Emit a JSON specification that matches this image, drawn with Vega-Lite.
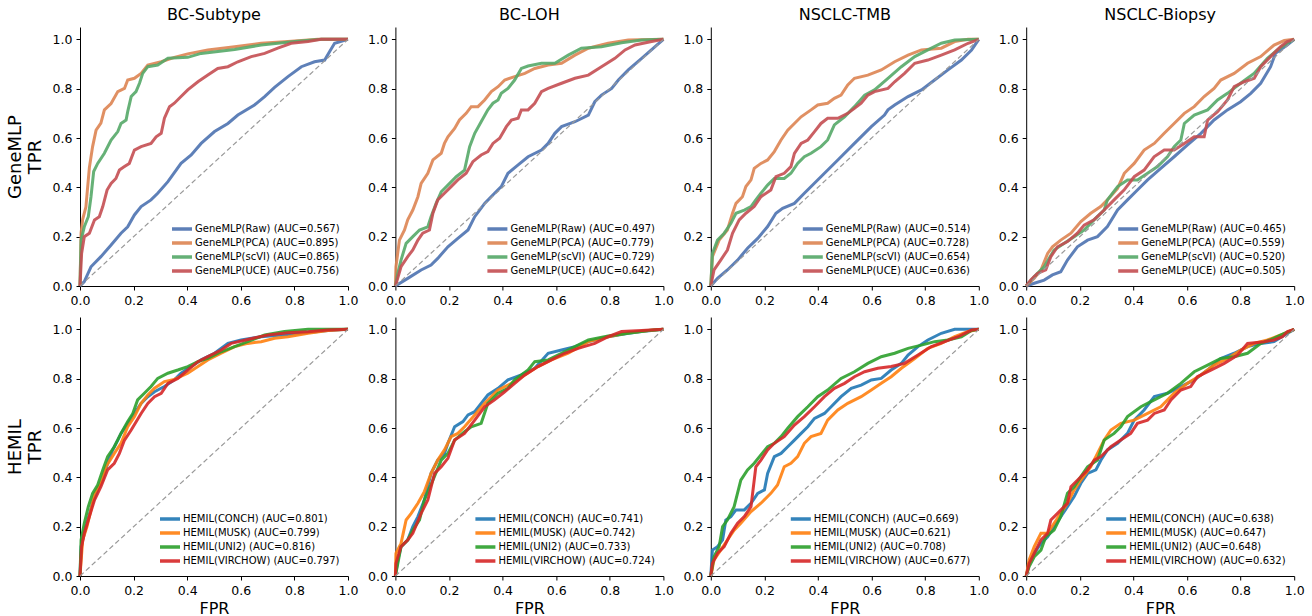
{
"$schema":"https://vega.github.io/schema/vega-lite/v6.json",
"background":"white",
"padding":{"left":6,"top":7,"right":5,"bottom":5},
"datasets":{
"diag":[{"x":0,"y":0},{"x":1,"y":1}],
"roc":[
{"p":"a1","m":"Raw","x":0,"y":0},{"p":"a1","m":"Raw","x":0.016,"y":0.018},{"p":"a1","m":"Raw","x":0.041,"y":0.078},{"p":"a1","m":"Raw","x":0.078,"y":0.119},{"p":"a1","m":"Raw","x":0.116,"y":0.166},{"p":"a1","m":"Raw","x":0.153,"y":0.214},{"p":"a1","m":"Raw","x":0.178,"y":0.24},{"p":"a1","m":"Raw","x":0.203,"y":0.288},{"p":"a1","m":"Raw","x":0.228,"y":0.322},{"p":"a1","m":"Raw","x":0.265,"y":0.349},{"p":"a1","m":"Raw","x":0.29,"y":0.376},{"p":"a1","m":"Raw","x":0.328,"y":0.423},{"p":"a1","m":"Raw","x":0.377,"y":0.497},{"p":"a1","m":"Raw","x":0.415,"y":0.531},{"p":"a1","m":"Raw","x":0.452,"y":0.578},{"p":"a1","m":"Raw","x":0.502,"y":0.626},{"p":"a1","m":"Raw","x":0.552,"y":0.659},{"p":"a1","m":"Raw","x":0.589,"y":0.693},{"p":"a1","m":"Raw","x":0.651,"y":0.734},{"p":"a1","m":"Raw","x":0.689,"y":0.768},{"p":"a1","m":"Raw","x":0.726,"y":0.805},{"p":"a1","m":"Raw","x":0.776,"y":0.849},{"p":"a1","m":"Raw","x":0.826,"y":0.889},{"p":"a1","m":"Raw","x":0.875,"y":0.909},{"p":"a1","m":"Raw","x":0.913,"y":0.916},{"p":"a1","m":"Raw","x":0.931,"y":0.95},{"p":"a1","m":"Raw","x":0.95,"y":0.984},{"p":"a1","m":"Raw","x":1,"y":1},
{"p":"a1","m":"PCA","x":0,"y":0},{"p":"a1","m":"PCA","x":0.004,"y":0.214},{"p":"a1","m":"PCA","x":0.01,"y":0.27},{"p":"a1","m":"PCA","x":0.022,"y":0.32},{"p":"a1","m":"PCA","x":0.035,"y":0.48},{"p":"a1","m":"PCA","x":0.047,"y":0.565},{"p":"a1","m":"PCA","x":0.06,"y":0.632},{"p":"a1","m":"PCA","x":0.078,"y":0.66},{"p":"a1","m":"PCA","x":0.091,"y":0.714},{"p":"a1","m":"PCA","x":0.116,"y":0.74},{"p":"a1","m":"PCA","x":0.141,"y":0.788},{"p":"a1","m":"PCA","x":0.166,"y":0.801},{"p":"a1","m":"PCA","x":0.178,"y":0.835},{"p":"a1","m":"PCA","x":0.203,"y":0.842},{"p":"a1","m":"PCA","x":0.228,"y":0.862},{"p":"a1","m":"PCA","x":0.253,"y":0.896},{"p":"a1","m":"PCA","x":0.303,"y":0.909},{"p":"a1","m":"PCA","x":0.352,"y":0.927},{"p":"a1","m":"PCA","x":0.402,"y":0.941},{"p":"a1","m":"PCA","x":0.477,"y":0.957},{"p":"a1","m":"PCA","x":0.577,"y":0.97},{"p":"a1","m":"PCA","x":0.676,"y":0.984},{"p":"a1","m":"PCA","x":0.776,"y":0.991},{"p":"a1","m":"PCA","x":0.888,"y":1},{"p":"a1","m":"PCA","x":1,"y":1},
{"p":"a1","m":"scVI","x":0,"y":0},{"p":"a1","m":"scVI","x":0.004,"y":0.186},{"p":"a1","m":"scVI","x":0.016,"y":0.24},{"p":"a1","m":"scVI","x":0.031,"y":0.281},{"p":"a1","m":"scVI","x":0.041,"y":0.362},{"p":"a1","m":"scVI","x":0.051,"y":0.464},{"p":"a1","m":"scVI","x":0.066,"y":0.497},{"p":"a1","m":"scVI","x":0.091,"y":0.538},{"p":"a1","m":"scVI","x":0.116,"y":0.592},{"p":"a1","m":"scVI","x":0.141,"y":0.626},{"p":"a1","m":"scVI","x":0.153,"y":0.659},{"p":"a1","m":"scVI","x":0.172,"y":0.673},{"p":"a1","m":"scVI","x":0.178,"y":0.707},{"p":"a1","m":"scVI","x":0.191,"y":0.768},{"p":"a1","m":"scVI","x":0.209,"y":0.788},{"p":"a1","m":"scVI","x":0.222,"y":0.822},{"p":"a1","m":"scVI","x":0.234,"y":0.862},{"p":"a1","m":"scVI","x":0.253,"y":0.889},{"p":"a1","m":"scVI","x":0.29,"y":0.896},{"p":"a1","m":"scVI","x":0.328,"y":0.923},{"p":"a1","m":"scVI","x":0.402,"y":0.927},{"p":"a1","m":"scVI","x":0.452,"y":0.943},{"p":"a1","m":"scVI","x":0.577,"y":0.959},{"p":"a1","m":"scVI","x":0.676,"y":0.977},{"p":"a1","m":"scVI","x":0.801,"y":0.991},{"p":"a1","m":"scVI","x":0.9,"y":1},{"p":"a1","m":"scVI","x":1,"y":1},
{"p":"a1","m":"UCE","x":0,"y":0},{"p":"a1","m":"UCE","x":0.006,"y":0.132},{"p":"a1","m":"UCE","x":0.016,"y":0.2},{"p":"a1","m":"UCE","x":0.035,"y":0.214},{"p":"a1","m":"UCE","x":0.054,"y":0.268},{"p":"a1","m":"UCE","x":0.072,"y":0.281},{"p":"a1","m":"UCE","x":0.085,"y":0.322},{"p":"a1","m":"UCE","x":0.101,"y":0.389},{"p":"a1","m":"UCE","x":0.116,"y":0.416},{"p":"a1","m":"UCE","x":0.134,"y":0.436},{"p":"a1","m":"UCE","x":0.147,"y":0.47},{"p":"a1","m":"UCE","x":0.166,"y":0.484},{"p":"a1","m":"UCE","x":0.184,"y":0.497},{"p":"a1","m":"UCE","x":0.203,"y":0.551},{"p":"a1","m":"UCE","x":0.228,"y":0.565},{"p":"a1","m":"UCE","x":0.265,"y":0.578},{"p":"a1","m":"UCE","x":0.284,"y":0.605},{"p":"a1","m":"UCE","x":0.303,"y":0.619},{"p":"a1","m":"UCE","x":0.315,"y":0.68},{"p":"a1","m":"UCE","x":0.334,"y":0.727},{"p":"a1","m":"UCE","x":0.352,"y":0.741},{"p":"a1","m":"UCE","x":0.377,"y":0.768},{"p":"a1","m":"UCE","x":0.402,"y":0.795},{"p":"a1","m":"UCE","x":0.44,"y":0.828},{"p":"a1","m":"UCE","x":0.477,"y":0.855},{"p":"a1","m":"UCE","x":0.514,"y":0.882},{"p":"a1","m":"UCE","x":0.552,"y":0.889},{"p":"a1","m":"UCE","x":0.589,"y":0.909},{"p":"a1","m":"UCE","x":0.639,"y":0.93},{"p":"a1","m":"UCE","x":0.689,"y":0.943},{"p":"a1","m":"UCE","x":0.738,"y":0.964},{"p":"a1","m":"UCE","x":0.788,"y":0.984},{"p":"a1","m":"UCE","x":0.851,"y":0.991},{"p":"a1","m":"UCE","x":0.9,"y":1},{"p":"a1","m":"UCE","x":1,"y":1},
{"p":"a2","m":"Raw","x":0,"y":0},{"p":"a2","m":"Raw","x":0.046,"y":0.031},{"p":"a2","m":"Raw","x":0.096,"y":0.065},{"p":"a2","m":"Raw","x":0.133,"y":0.085},{"p":"a2","m":"Raw","x":0.158,"y":0.112},{"p":"a2","m":"Raw","x":0.196,"y":0.159},{"p":"a2","m":"Raw","x":0.233,"y":0.193},{"p":"a2","m":"Raw","x":0.271,"y":0.227},{"p":"a2","m":"Raw","x":0.296,"y":0.281},{"p":"a2","m":"Raw","x":0.333,"y":0.335},{"p":"a2","m":"Raw","x":0.37,"y":0.376},{"p":"a2","m":"Raw","x":0.395,"y":0.403},{"p":"a2","m":"Raw","x":0.42,"y":0.457},{"p":"a2","m":"Raw","x":0.458,"y":0.491},{"p":"a2","m":"Raw","x":0.495,"y":0.524},{"p":"a2","m":"Raw","x":0.545,"y":0.551},{"p":"a2","m":"Raw","x":0.57,"y":0.578},{"p":"a2","m":"Raw","x":0.595,"y":0.619},{"p":"a2","m":"Raw","x":0.62,"y":0.646},{"p":"a2","m":"Raw","x":0.67,"y":0.666},{"p":"a2","m":"Raw","x":0.72,"y":0.693},{"p":"a2","m":"Raw","x":0.744,"y":0.747},{"p":"a2","m":"Raw","x":0.769,"y":0.774},{"p":"a2","m":"Raw","x":0.807,"y":0.801},{"p":"a2","m":"Raw","x":0.832,"y":0.835},{"p":"a2","m":"Raw","x":0.869,"y":0.876},{"p":"a2","m":"Raw","x":0.919,"y":0.923},{"p":"a2","m":"Raw","x":0.969,"y":0.97},{"p":"a2","m":"Raw","x":1,"y":1},
{"p":"a2","m":"PCA","x":0,"y":0},{"p":"a2","m":"PCA","x":0.002,"y":0.078},{"p":"a2","m":"PCA","x":0.015,"y":0.186},{"p":"a2","m":"PCA","x":0.034,"y":0.227},{"p":"a2","m":"PCA","x":0.046,"y":0.268},{"p":"a2","m":"PCA","x":0.065,"y":0.308},{"p":"a2","m":"PCA","x":0.084,"y":0.362},{"p":"a2","m":"PCA","x":0.096,"y":0.416},{"p":"a2","m":"PCA","x":0.121,"y":0.457},{"p":"a2","m":"PCA","x":0.14,"y":0.511},{"p":"a2","m":"PCA","x":0.171,"y":0.538},{"p":"a2","m":"PCA","x":0.183,"y":0.578},{"p":"a2","m":"PCA","x":0.196,"y":0.605},{"p":"a2","m":"PCA","x":0.221,"y":0.639},{"p":"a2","m":"PCA","x":0.239,"y":0.673},{"p":"a2","m":"PCA","x":0.264,"y":0.7},{"p":"a2","m":"PCA","x":0.283,"y":0.727},{"p":"a2","m":"PCA","x":0.308,"y":0.727},{"p":"a2","m":"PCA","x":0.333,"y":0.754},{"p":"a2","m":"PCA","x":0.358,"y":0.788},{"p":"a2","m":"PCA","x":0.383,"y":0.808},{"p":"a2","m":"PCA","x":0.408,"y":0.835},{"p":"a2","m":"PCA","x":0.445,"y":0.849},{"p":"a2","m":"PCA","x":0.483,"y":0.862},{"p":"a2","m":"PCA","x":0.52,"y":0.882},{"p":"a2","m":"PCA","x":0.57,"y":0.896},{"p":"a2","m":"PCA","x":0.62,"y":0.903},{"p":"a2","m":"PCA","x":0.67,"y":0.936},{"p":"a2","m":"PCA","x":0.72,"y":0.964},{"p":"a2","m":"PCA","x":0.794,"y":0.984},{"p":"a2","m":"PCA","x":0.869,"y":0.997},{"p":"a2","m":"PCA","x":1,"y":1},
{"p":"a2","m":"scVI","x":0,"y":0},{"p":"a2","m":"scVI","x":0.009,"y":0.051},{"p":"a2","m":"scVI","x":0.021,"y":0.105},{"p":"a2","m":"scVI","x":0.04,"y":0.173},{"p":"a2","m":"scVI","x":0.065,"y":0.2},{"p":"a2","m":"scVI","x":0.09,"y":0.227},{"p":"a2","m":"scVI","x":0.121,"y":0.24},{"p":"a2","m":"scVI","x":0.133,"y":0.281},{"p":"a2","m":"scVI","x":0.152,"y":0.335},{"p":"a2","m":"scVI","x":0.171,"y":0.382},{"p":"a2","m":"scVI","x":0.196,"y":0.409},{"p":"a2","m":"scVI","x":0.227,"y":0.443},{"p":"a2","m":"scVI","x":0.258,"y":0.47},{"p":"a2","m":"scVI","x":0.277,"y":0.565},{"p":"a2","m":"scVI","x":0.296,"y":0.619},{"p":"a2","m":"scVI","x":0.32,"y":0.666},{"p":"a2","m":"scVI","x":0.345,"y":0.714},{"p":"a2","m":"scVI","x":0.364,"y":0.741},{"p":"a2","m":"scVI","x":0.383,"y":0.754},{"p":"a2","m":"scVI","x":0.395,"y":0.781},{"p":"a2","m":"scVI","x":0.42,"y":0.801},{"p":"a2","m":"scVI","x":0.445,"y":0.835},{"p":"a2","m":"scVI","x":0.47,"y":0.882},{"p":"a2","m":"scVI","x":0.495,"y":0.892},{"p":"a2","m":"scVI","x":0.545,"y":0.903},{"p":"a2","m":"scVI","x":0.595,"y":0.903},{"p":"a2","m":"scVI","x":0.645,"y":0.936},{"p":"a2","m":"scVI","x":0.694,"y":0.964},{"p":"a2","m":"scVI","x":0.769,"y":0.97},{"p":"a2","m":"scVI","x":0.844,"y":0.986},{"p":"a2","m":"scVI","x":0.919,"y":0.997},{"p":"a2","m":"scVI","x":1,"y":1},
{"p":"a2","m":"UCE","x":0,"y":0},{"p":"a2","m":"UCE","x":0.021,"y":0.078},{"p":"a2","m":"UCE","x":0.046,"y":0.119},{"p":"a2","m":"UCE","x":0.065,"y":0.146},{"p":"a2","m":"UCE","x":0.084,"y":0.186},{"p":"a2","m":"UCE","x":0.102,"y":0.214},{"p":"a2","m":"UCE","x":0.127,"y":0.227},{"p":"a2","m":"UCE","x":0.14,"y":0.295},{"p":"a2","m":"UCE","x":0.158,"y":0.349},{"p":"a2","m":"UCE","x":0.183,"y":0.376},{"p":"a2","m":"UCE","x":0.208,"y":0.403},{"p":"a2","m":"UCE","x":0.233,"y":0.43},{"p":"a2","m":"UCE","x":0.264,"y":0.457},{"p":"a2","m":"UCE","x":0.289,"y":0.504},{"p":"a2","m":"UCE","x":0.32,"y":0.531},{"p":"a2","m":"UCE","x":0.345,"y":0.545},{"p":"a2","m":"UCE","x":0.364,"y":0.578},{"p":"a2","m":"UCE","x":0.389,"y":0.599},{"p":"a2","m":"UCE","x":0.414,"y":0.646},{"p":"a2","m":"UCE","x":0.433,"y":0.673},{"p":"a2","m":"UCE","x":0.458,"y":0.68},{"p":"a2","m":"UCE","x":0.47,"y":0.714},{"p":"a2","m":"UCE","x":0.495,"y":0.714},{"p":"a2","m":"UCE","x":0.52,"y":0.741},{"p":"a2","m":"UCE","x":0.545,"y":0.788},{"p":"a2","m":"UCE","x":0.57,"y":0.801},{"p":"a2","m":"UCE","x":0.62,"y":0.822},{"p":"a2","m":"UCE","x":0.67,"y":0.842},{"p":"a2","m":"UCE","x":0.72,"y":0.855},{"p":"a2","m":"UCE","x":0.769,"y":0.889},{"p":"a2","m":"UCE","x":0.819,"y":0.923},{"p":"a2","m":"UCE","x":0.857,"y":0.957},{"p":"a2","m":"UCE","x":0.894,"y":0.977},{"p":"a2","m":"UCE","x":0.956,"y":0.991},{"p":"a2","m":"UCE","x":1,"y":1},
{"p":"a3","m":"Raw","x":0,"y":0},{"p":"a3","m":"Raw","x":0.025,"y":0.031},{"p":"a3","m":"Raw","x":0.062,"y":0.065},{"p":"a3","m":"Raw","x":0.1,"y":0.105},{"p":"a3","m":"Raw","x":0.137,"y":0.153},{"p":"a3","m":"Raw","x":0.175,"y":0.193},{"p":"a3","m":"Raw","x":0.212,"y":0.241},{"p":"a3","m":"Raw","x":0.243,"y":0.295},{"p":"a3","m":"Raw","x":0.268,"y":0.315},{"p":"a3","m":"Raw","x":0.312,"y":0.335},{"p":"a3","m":"Raw","x":0.349,"y":0.376},{"p":"a3","m":"Raw","x":0.411,"y":0.443},{"p":"a3","m":"Raw","x":0.474,"y":0.511},{"p":"a3","m":"Raw","x":0.536,"y":0.578},{"p":"a3","m":"Raw","x":0.599,"y":0.646},{"p":"a3","m":"Raw","x":0.648,"y":0.693},{"p":"a3","m":"Raw","x":0.661,"y":0.714},{"p":"a3","m":"Raw","x":0.686,"y":0.734},{"p":"a3","m":"Raw","x":0.736,"y":0.768},{"p":"a3","m":"Raw","x":0.786,"y":0.795},{"p":"a3","m":"Raw","x":0.835,"y":0.835},{"p":"a3","m":"Raw","x":0.885,"y":0.876},{"p":"a3","m":"Raw","x":0.935,"y":0.916},{"p":"a3","m":"Raw","x":0.973,"y":0.957},{"p":"a3","m":"Raw","x":1,"y":1},
{"p":"a3","m":"PCA","x":0,"y":0},{"p":"a3","m":"PCA","x":0.006,"y":0.119},{"p":"a3","m":"PCA","x":0.031,"y":0.186},{"p":"a3","m":"PCA","x":0.062,"y":0.227},{"p":"a3","m":"PCA","x":0.081,"y":0.295},{"p":"a3","m":"PCA","x":0.094,"y":0.335},{"p":"a3","m":"PCA","x":0.118,"y":0.362},{"p":"a3","m":"PCA","x":0.131,"y":0.403},{"p":"a3","m":"PCA","x":0.15,"y":0.43},{"p":"a3","m":"PCA","x":0.162,"y":0.477},{"p":"a3","m":"PCA","x":0.187,"y":0.497},{"p":"a3","m":"PCA","x":0.212,"y":0.511},{"p":"a3","m":"PCA","x":0.237,"y":0.545},{"p":"a3","m":"PCA","x":0.262,"y":0.592},{"p":"a3","m":"PCA","x":0.287,"y":0.632},{"p":"a3","m":"PCA","x":0.312,"y":0.659},{"p":"a3","m":"PCA","x":0.337,"y":0.686},{"p":"a3","m":"PCA","x":0.374,"y":0.714},{"p":"a3","m":"PCA","x":0.399,"y":0.734},{"p":"a3","m":"PCA","x":0.436,"y":0.741},{"p":"a3","m":"PCA","x":0.461,"y":0.761},{"p":"a3","m":"PCA","x":0.486,"y":0.774},{"p":"a3","m":"PCA","x":0.511,"y":0.815},{"p":"a3","m":"PCA","x":0.536,"y":0.842},{"p":"a3","m":"PCA","x":0.586,"y":0.855},{"p":"a3","m":"PCA","x":0.636,"y":0.876},{"p":"a3","m":"PCA","x":0.686,"y":0.909},{"p":"a3","m":"PCA","x":0.736,"y":0.936},{"p":"a3","m":"PCA","x":0.786,"y":0.957},{"p":"a3","m":"PCA","x":0.86,"y":0.964},{"p":"a3","m":"PCA","x":0.91,"y":0.991},{"p":"a3","m":"PCA","x":0.96,"y":1},{"p":"a3","m":"PCA","x":1,"y":1},
{"p":"a3","m":"scVI","x":0,"y":0},{"p":"a3","m":"scVI","x":0.006,"y":0.132},{"p":"a3","m":"scVI","x":0.025,"y":0.186},{"p":"a3","m":"scVI","x":0.05,"y":0.214},{"p":"a3","m":"scVI","x":0.075,"y":0.254},{"p":"a3","m":"scVI","x":0.094,"y":0.295},{"p":"a3","m":"scVI","x":0.125,"y":0.308},{"p":"a3","m":"scVI","x":0.15,"y":0.322},{"p":"a3","m":"scVI","x":0.168,"y":0.349},{"p":"a3","m":"scVI","x":0.187,"y":0.376},{"p":"a3","m":"scVI","x":0.212,"y":0.409},{"p":"a3","m":"scVI","x":0.237,"y":0.436},{"p":"a3","m":"scVI","x":0.274,"y":0.436},{"p":"a3","m":"scVI","x":0.299,"y":0.457},{"p":"a3","m":"scVI","x":0.324,"y":0.497},{"p":"a3","m":"scVI","x":0.349,"y":0.524},{"p":"a3","m":"scVI","x":0.374,"y":0.538},{"p":"a3","m":"scVI","x":0.411,"y":0.565},{"p":"a3","m":"scVI","x":0.436,"y":0.592},{"p":"a3","m":"scVI","x":0.461,"y":0.653},{"p":"a3","m":"scVI","x":0.499,"y":0.686},{"p":"a3","m":"scVI","x":0.536,"y":0.727},{"p":"a3","m":"scVI","x":0.574,"y":0.774},{"p":"a3","m":"scVI","x":0.611,"y":0.795},{"p":"a3","m":"scVI","x":0.661,"y":0.842},{"p":"a3","m":"scVI","x":0.711,"y":0.889},{"p":"a3","m":"scVI","x":0.761,"y":0.93},{"p":"a3","m":"scVI","x":0.81,"y":0.957},{"p":"a3","m":"scVI","x":0.86,"y":0.984},{"p":"a3","m":"scVI","x":0.91,"y":0.997},{"p":"a3","m":"scVI","x":1,"y":1},
{"p":"a3","m":"UCE","x":0,"y":0},{"p":"a3","m":"UCE","x":0.012,"y":0.065},{"p":"a3","m":"UCE","x":0.037,"y":0.105},{"p":"a3","m":"UCE","x":0.062,"y":0.146},{"p":"a3","m":"UCE","x":0.081,"y":0.214},{"p":"a3","m":"UCE","x":0.106,"y":0.268},{"p":"a3","m":"UCE","x":0.131,"y":0.295},{"p":"a3","m":"UCE","x":0.162,"y":0.322},{"p":"a3","m":"UCE","x":0.187,"y":0.362},{"p":"a3","m":"UCE","x":0.224,"y":0.389},{"p":"a3","m":"UCE","x":0.243,"y":0.443},{"p":"a3","m":"UCE","x":0.274,"y":0.457},{"p":"a3","m":"UCE","x":0.299,"y":0.484},{"p":"a3","m":"UCE","x":0.312,"y":0.538},{"p":"a3","m":"UCE","x":0.337,"y":0.578},{"p":"a3","m":"UCE","x":0.362,"y":0.592},{"p":"a3","m":"UCE","x":0.387,"y":0.626},{"p":"a3","m":"UCE","x":0.411,"y":0.659},{"p":"a3","m":"UCE","x":0.436,"y":0.68},{"p":"a3","m":"UCE","x":0.474,"y":0.68},{"p":"a3","m":"UCE","x":0.511,"y":0.7},{"p":"a3","m":"UCE","x":0.536,"y":0.72},{"p":"a3","m":"UCE","x":0.561,"y":0.741},{"p":"a3","m":"UCE","x":0.586,"y":0.774},{"p":"a3","m":"UCE","x":0.611,"y":0.788},{"p":"a3","m":"UCE","x":0.661,"y":0.801},{"p":"a3","m":"UCE","x":0.686,"y":0.828},{"p":"a3","m":"UCE","x":0.723,"y":0.862},{"p":"a3","m":"UCE","x":0.761,"y":0.903},{"p":"a3","m":"UCE","x":0.81,"y":0.916},{"p":"a3","m":"UCE","x":0.86,"y":0.936},{"p":"a3","m":"UCE","x":0.91,"y":0.957},{"p":"a3","m":"UCE","x":0.96,"y":0.984},{"p":"a3","m":"UCE","x":1,"y":1},
{"p":"a4","m":"Raw","x":0,"y":0},{"p":"a4","m":"Raw","x":0.03,"y":0.011},{"p":"a4","m":"Raw","x":0.067,"y":0.024},{"p":"a4","m":"Raw","x":0.098,"y":0.045},{"p":"a4","m":"Raw","x":0.129,"y":0.058},{"p":"a4","m":"Raw","x":0.154,"y":0.105},{"p":"a4","m":"Raw","x":0.191,"y":0.159},{"p":"a4","m":"Raw","x":0.229,"y":0.186},{"p":"a4","m":"Raw","x":0.266,"y":0.2},{"p":"a4","m":"Raw","x":0.303,"y":0.241},{"p":"a4","m":"Raw","x":0.341,"y":0.308},{"p":"a4","m":"Raw","x":0.378,"y":0.349},{"p":"a4","m":"Raw","x":0.415,"y":0.389},{"p":"a4","m":"Raw","x":0.453,"y":0.43},{"p":"a4","m":"Raw","x":0.502,"y":0.477},{"p":"a4","m":"Raw","x":0.552,"y":0.524},{"p":"a4","m":"Raw","x":0.602,"y":0.572},{"p":"a4","m":"Raw","x":0.652,"y":0.619},{"p":"a4","m":"Raw","x":0.701,"y":0.673},{"p":"a4","m":"Raw","x":0.751,"y":0.714},{"p":"a4","m":"Raw","x":0.8,"y":0.747},{"p":"a4","m":"Raw","x":0.838,"y":0.781},{"p":"a4","m":"Raw","x":0.875,"y":0.822},{"p":"a4","m":"Raw","x":0.912,"y":0.889},{"p":"a4","m":"Raw","x":0.93,"y":0.943},{"p":"a4","m":"Raw","x":0.974,"y":0.977},{"p":"a4","m":"Raw","x":1,"y":1},
{"p":"a4","m":"PCA","x":0,"y":0},{"p":"a4","m":"PCA","x":0.03,"y":0.031},{"p":"a4","m":"PCA","x":0.055,"y":0.065},{"p":"a4","m":"PCA","x":0.08,"y":0.132},{"p":"a4","m":"PCA","x":0.098,"y":0.159},{"p":"a4","m":"PCA","x":0.129,"y":0.186},{"p":"a4","m":"PCA","x":0.167,"y":0.214},{"p":"a4","m":"PCA","x":0.204,"y":0.261},{"p":"a4","m":"PCA","x":0.241,"y":0.295},{"p":"a4","m":"PCA","x":0.278,"y":0.322},{"p":"a4","m":"PCA","x":0.303,"y":0.349},{"p":"a4","m":"PCA","x":0.341,"y":0.396},{"p":"a4","m":"PCA","x":0.366,"y":0.457},{"p":"a4","m":"PCA","x":0.403,"y":0.497},{"p":"a4","m":"PCA","x":0.44,"y":0.551},{"p":"a4","m":"PCA","x":0.478,"y":0.578},{"p":"a4","m":"PCA","x":0.515,"y":0.619},{"p":"a4","m":"PCA","x":0.552,"y":0.659},{"p":"a4","m":"PCA","x":0.59,"y":0.7},{"p":"a4","m":"PCA","x":0.627,"y":0.727},{"p":"a4","m":"PCA","x":0.664,"y":0.768},{"p":"a4","m":"PCA","x":0.701,"y":0.801},{"p":"a4","m":"PCA","x":0.726,"y":0.835},{"p":"a4","m":"PCA","x":0.776,"y":0.862},{"p":"a4","m":"PCA","x":0.826,"y":0.903},{"p":"a4","m":"PCA","x":0.875,"y":0.93},{"p":"a4","m":"PCA","x":0.925,"y":0.977},{"p":"a4","m":"PCA","x":0.963,"y":0.995},{"p":"a4","m":"PCA","x":1,"y":1},
{"p":"a4","m":"scVI","x":0,"y":0},{"p":"a4","m":"scVI","x":0.03,"y":0.038},{"p":"a4","m":"scVI","x":0.067,"y":0.078},{"p":"a4","m":"scVI","x":0.104,"y":0.146},{"p":"a4","m":"scVI","x":0.142,"y":0.173},{"p":"a4","m":"scVI","x":0.179,"y":0.2},{"p":"a4","m":"scVI","x":0.216,"y":0.227},{"p":"a4","m":"scVI","x":0.253,"y":0.268},{"p":"a4","m":"scVI","x":0.291,"y":0.308},{"p":"a4","m":"scVI","x":0.303,"y":0.349},{"p":"a4","m":"scVI","x":0.341,"y":0.403},{"p":"a4","m":"scVI","x":0.378,"y":0.43},{"p":"a4","m":"scVI","x":0.415,"y":0.43},{"p":"a4","m":"scVI","x":0.453,"y":0.457},{"p":"a4","m":"scVI","x":0.49,"y":0.484},{"p":"a4","m":"scVI","x":0.527,"y":0.524},{"p":"a4","m":"scVI","x":0.552,"y":0.565},{"p":"a4","m":"scVI","x":0.577,"y":0.592},{"p":"a4","m":"scVI","x":0.59,"y":0.659},{"p":"a4","m":"scVI","x":0.627,"y":0.693},{"p":"a4","m":"scVI","x":0.677,"y":0.714},{"p":"a4","m":"scVI","x":0.714,"y":0.754},{"p":"a4","m":"scVI","x":0.751,"y":0.781},{"p":"a4","m":"scVI","x":0.8,"y":0.822},{"p":"a4","m":"scVI","x":0.85,"y":0.862},{"p":"a4","m":"scVI","x":0.9,"y":0.923},{"p":"a4","m":"scVI","x":0.937,"y":0.957},{"p":"a4","m":"scVI","x":0.974,"y":0.984},{"p":"a4","m":"scVI","x":1,"y":1},
{"p":"a4","m":"UCE","x":0,"y":0},{"p":"a4","m":"UCE","x":0.017,"y":0.024},{"p":"a4","m":"UCE","x":0.042,"y":0.051},{"p":"a4","m":"UCE","x":0.073,"y":0.065},{"p":"a4","m":"UCE","x":0.092,"y":0.119},{"p":"a4","m":"UCE","x":0.117,"y":0.159},{"p":"a4","m":"UCE","x":0.154,"y":0.18},{"p":"a4","m":"UCE","x":0.191,"y":0.214},{"p":"a4","m":"UCE","x":0.216,"y":0.247},{"p":"a4","m":"UCE","x":0.253,"y":0.268},{"p":"a4","m":"UCE","x":0.291,"y":0.308},{"p":"a4","m":"UCE","x":0.328,"y":0.349},{"p":"a4","m":"UCE","x":0.365,"y":0.389},{"p":"a4","m":"UCE","x":0.403,"y":0.443},{"p":"a4","m":"UCE","x":0.44,"y":0.47},{"p":"a4","m":"UCE","x":0.477,"y":0.524},{"p":"a4","m":"UCE","x":0.515,"y":0.551},{"p":"a4","m":"UCE","x":0.552,"y":0.551},{"p":"a4","m":"UCE","x":0.59,"y":0.578},{"p":"a4","m":"UCE","x":0.627,"y":0.605},{"p":"a4","m":"UCE","x":0.664,"y":0.605},{"p":"a4","m":"UCE","x":0.677,"y":0.673},{"p":"a4","m":"UCE","x":0.714,"y":0.707},{"p":"a4","m":"UCE","x":0.751,"y":0.754},{"p":"a4","m":"UCE","x":0.776,"y":0.808},{"p":"a4","m":"UCE","x":0.814,"y":0.828},{"p":"a4","m":"UCE","x":0.851,"y":0.842},{"p":"a4","m":"UCE","x":0.875,"y":0.889},{"p":"a4","m":"UCE","x":0.912,"y":0.93},{"p":"a4","m":"UCE","x":0.949,"y":0.97},{"p":"a4","m":"UCE","x":0.974,"y":0.991},{"p":"a4","m":"UCE","x":1,"y":1},
{"p":"b1","m":"CONCH","x":0,"y":0},{"p":"b1","m":"CONCH","x":0.004,"y":0.119},{"p":"b1","m":"CONCH","x":0.016,"y":0.173},{"p":"b1","m":"CONCH","x":0.029,"y":0.227},{"p":"b1","m":"CONCH","x":0.047,"y":0.295},{"p":"b1","m":"CONCH","x":0.066,"y":0.349},{"p":"b1","m":"CONCH","x":0.085,"y":0.389},{"p":"b1","m":"CONCH","x":0.103,"y":0.457},{"p":"b1","m":"CONCH","x":0.122,"y":0.511},{"p":"b1","m":"CONCH","x":0.141,"y":0.551},{"p":"b1","m":"CONCH","x":0.153,"y":0.578},{"p":"b1","m":"CONCH","x":0.178,"y":0.619},{"p":"b1","m":"CONCH","x":0.203,"y":0.659},{"p":"b1","m":"CONCH","x":0.228,"y":0.7},{"p":"b1","m":"CONCH","x":0.253,"y":0.727},{"p":"b1","m":"CONCH","x":0.278,"y":0.747},{"p":"b1","m":"CONCH","x":0.315,"y":0.768},{"p":"b1","m":"CONCH","x":0.352,"y":0.795},{"p":"b1","m":"CONCH","x":0.377,"y":0.822},{"p":"b1","m":"CONCH","x":0.415,"y":0.849},{"p":"b1","m":"CONCH","x":0.452,"y":0.876},{"p":"b1","m":"CONCH","x":0.502,"y":0.903},{"p":"b1","m":"CONCH","x":0.552,"y":0.943},{"p":"b1","m":"CONCH","x":0.601,"y":0.957},{"p":"b1","m":"CONCH","x":0.676,"y":0.97},{"p":"b1","m":"CONCH","x":0.751,"y":0.977},{"p":"b1","m":"CONCH","x":0.826,"y":0.984},{"p":"b1","m":"CONCH","x":0.925,"y":0.995},{"p":"b1","m":"CONCH","x":1,"y":1},
{"p":"b1","m":"MUSK","x":0,"y":0},{"p":"b1","m":"MUSK","x":0.01,"y":0.146},{"p":"b1","m":"MUSK","x":0.026,"y":0.2},{"p":"b1","m":"MUSK","x":0.041,"y":0.268},{"p":"b1","m":"MUSK","x":0.054,"y":0.335},{"p":"b1","m":"MUSK","x":0.078,"y":0.376},{"p":"b1","m":"MUSK","x":0.097,"y":0.443},{"p":"b1","m":"MUSK","x":0.128,"y":0.497},{"p":"b1","m":"MUSK","x":0.153,"y":0.538},{"p":"b1","m":"MUSK","x":0.178,"y":0.605},{"p":"b1","m":"MUSK","x":0.203,"y":0.646},{"p":"b1","m":"MUSK","x":0.228,"y":0.7},{"p":"b1","m":"MUSK","x":0.253,"y":0.734},{"p":"b1","m":"MUSK","x":0.278,"y":0.761},{"p":"b1","m":"MUSK","x":0.315,"y":0.788},{"p":"b1","m":"MUSK","x":0.352,"y":0.797},{"p":"b1","m":"MUSK","x":0.402,"y":0.822},{"p":"b1","m":"MUSK","x":0.44,"y":0.849},{"p":"b1","m":"MUSK","x":0.477,"y":0.876},{"p":"b1","m":"MUSK","x":0.527,"y":0.903},{"p":"b1","m":"MUSK","x":0.577,"y":0.93},{"p":"b1","m":"MUSK","x":0.626,"y":0.943},{"p":"b1","m":"MUSK","x":0.676,"y":0.95},{"p":"b1","m":"MUSK","x":0.726,"y":0.964},{"p":"b1","m":"MUSK","x":0.776,"y":0.97},{"p":"b1","m":"MUSK","x":0.851,"y":0.984},{"p":"b1","m":"MUSK","x":0.925,"y":0.995},{"p":"b1","m":"MUSK","x":1,"y":1},
{"p":"b1","m":"UNI2","x":0,"y":0},{"p":"b1","m":"UNI2","x":0.004,"y":0.146},{"p":"b1","m":"UNI2","x":0.016,"y":0.214},{"p":"b1","m":"UNI2","x":0.031,"y":0.281},{"p":"b1","m":"UNI2","x":0.047,"y":0.335},{"p":"b1","m":"UNI2","x":0.066,"y":0.369},{"p":"b1","m":"UNI2","x":0.085,"y":0.43},{"p":"b1","m":"UNI2","x":0.103,"y":0.484},{"p":"b1","m":"UNI2","x":0.128,"y":0.524},{"p":"b1","m":"UNI2","x":0.153,"y":0.578},{"p":"b1","m":"UNI2","x":0.178,"y":0.626},{"p":"b1","m":"UNI2","x":0.197,"y":0.659},{"p":"b1","m":"UNI2","x":0.215,"y":0.714},{"p":"b1","m":"UNI2","x":0.24,"y":0.741},{"p":"b1","m":"UNI2","x":0.265,"y":0.768},{"p":"b1","m":"UNI2","x":0.29,"y":0.801},{"p":"b1","m":"UNI2","x":0.328,"y":0.822},{"p":"b1","m":"UNI2","x":0.365,"y":0.835},{"p":"b1","m":"UNI2","x":0.402,"y":0.849},{"p":"b1","m":"UNI2","x":0.44,"y":0.869},{"p":"b1","m":"UNI2","x":0.477,"y":0.882},{"p":"b1","m":"UNI2","x":0.527,"y":0.909},{"p":"b1","m":"UNI2","x":0.577,"y":0.93},{"p":"b1","m":"UNI2","x":0.626,"y":0.95},{"p":"b1","m":"UNI2","x":0.689,"y":0.977},{"p":"b1","m":"UNI2","x":0.763,"y":0.991},{"p":"b1","m":"UNI2","x":0.851,"y":1},{"p":"b1","m":"UNI2","x":1,"y":1},
{"p":"b1","m":"VIRCHOW","x":0,"y":0},{"p":"b1","m":"VIRCHOW","x":0.006,"y":0.119},{"p":"b1","m":"VIRCHOW","x":0.016,"y":0.173},{"p":"b1","m":"VIRCHOW","x":0.035,"y":0.241},{"p":"b1","m":"VIRCHOW","x":0.054,"y":0.308},{"p":"b1","m":"VIRCHOW","x":0.078,"y":0.362},{"p":"b1","m":"VIRCHOW","x":0.103,"y":0.43},{"p":"b1","m":"VIRCHOW","x":0.128,"y":0.457},{"p":"b1","m":"VIRCHOW","x":0.147,"y":0.497},{"p":"b1","m":"VIRCHOW","x":0.166,"y":0.551},{"p":"b1","m":"VIRCHOW","x":0.191,"y":0.592},{"p":"b1","m":"VIRCHOW","x":0.228,"y":0.659},{"p":"b1","m":"VIRCHOW","x":0.253,"y":0.7},{"p":"b1","m":"VIRCHOW","x":0.278,"y":0.727},{"p":"b1","m":"VIRCHOW","x":0.303,"y":0.741},{"p":"b1","m":"VIRCHOW","x":0.328,"y":0.781},{"p":"b1","m":"VIRCHOW","x":0.365,"y":0.801},{"p":"b1","m":"VIRCHOW","x":0.402,"y":0.835},{"p":"b1","m":"VIRCHOW","x":0.44,"y":0.869},{"p":"b1","m":"VIRCHOW","x":0.477,"y":0.889},{"p":"b1","m":"VIRCHOW","x":0.527,"y":0.916},{"p":"b1","m":"VIRCHOW","x":0.564,"y":0.943},{"p":"b1","m":"VIRCHOW","x":0.626,"y":0.959},{"p":"b1","m":"VIRCHOW","x":0.701,"y":0.977},{"p":"b1","m":"VIRCHOW","x":0.776,"y":0.986},{"p":"b1","m":"VIRCHOW","x":0.851,"y":0.99},{"p":"b1","m":"VIRCHOW","x":0.925,"y":0.997},{"p":"b1","m":"VIRCHOW","x":1,"y":1},
{"p":"b2","m":"CONCH","x":0,"y":0},{"p":"b2","m":"CONCH","x":0.009,"y":0.065},{"p":"b2","m":"CONCH","x":0.021,"y":0.119},{"p":"b2","m":"CONCH","x":0.046,"y":0.146},{"p":"b2","m":"CONCH","x":0.065,"y":0.2},{"p":"b2","m":"CONCH","x":0.084,"y":0.241},{"p":"b2","m":"CONCH","x":0.108,"y":0.308},{"p":"b2","m":"CONCH","x":0.133,"y":0.416},{"p":"b2","m":"CONCH","x":0.158,"y":0.47},{"p":"b2","m":"CONCH","x":0.183,"y":0.497},{"p":"b2","m":"CONCH","x":0.196,"y":0.538},{"p":"b2","m":"CONCH","x":0.221,"y":0.605},{"p":"b2","m":"CONCH","x":0.252,"y":0.626},{"p":"b2","m":"CONCH","x":0.271,"y":0.653},{"p":"b2","m":"CONCH","x":0.296,"y":0.666},{"p":"b2","m":"CONCH","x":0.32,"y":0.7},{"p":"b2","m":"CONCH","x":0.345,"y":0.734},{"p":"b2","m":"CONCH","x":0.383,"y":0.761},{"p":"b2","m":"CONCH","x":0.42,"y":0.795},{"p":"b2","m":"CONCH","x":0.47,"y":0.815},{"p":"b2","m":"CONCH","x":0.52,"y":0.842},{"p":"b2","m":"CONCH","x":0.57,"y":0.903},{"p":"b2","m":"CONCH","x":0.62,"y":0.916},{"p":"b2","m":"CONCH","x":0.67,"y":0.93},{"p":"b2","m":"CONCH","x":0.72,"y":0.95},{"p":"b2","m":"CONCH","x":0.794,"y":0.97},{"p":"b2","m":"CONCH","x":0.869,"y":0.984},{"p":"b2","m":"CONCH","x":0.919,"y":0.991},{"p":"b2","m":"CONCH","x":1,"y":1},
{"p":"b2","m":"MUSK","x":0,"y":0},{"p":"b2","m":"MUSK","x":0.002,"y":0.092},{"p":"b2","m":"MUSK","x":0.021,"y":0.132},{"p":"b2","m":"MUSK","x":0.04,"y":0.227},{"p":"b2","m":"MUSK","x":0.059,"y":0.254},{"p":"b2","m":"MUSK","x":0.084,"y":0.295},{"p":"b2","m":"MUSK","x":0.108,"y":0.342},{"p":"b2","m":"MUSK","x":0.133,"y":0.416},{"p":"b2","m":"MUSK","x":0.158,"y":0.47},{"p":"b2","m":"MUSK","x":0.183,"y":0.511},{"p":"b2","m":"MUSK","x":0.208,"y":0.565},{"p":"b2","m":"MUSK","x":0.233,"y":0.578},{"p":"b2","m":"MUSK","x":0.258,"y":0.605},{"p":"b2","m":"MUSK","x":0.296,"y":0.653},{"p":"b2","m":"MUSK","x":0.333,"y":0.7},{"p":"b2","m":"MUSK","x":0.383,"y":0.754},{"p":"b2","m":"MUSK","x":0.433,"y":0.781},{"p":"b2","m":"MUSK","x":0.483,"y":0.815},{"p":"b2","m":"MUSK","x":0.532,"y":0.849},{"p":"b2","m":"MUSK","x":0.582,"y":0.876},{"p":"b2","m":"MUSK","x":0.645,"y":0.903},{"p":"b2","m":"MUSK","x":0.72,"y":0.95},{"p":"b2","m":"MUSK","x":0.794,"y":0.97},{"p":"b2","m":"MUSK","x":0.869,"y":0.986},{"p":"b2","m":"MUSK","x":0.944,"y":0.995},{"p":"b2","m":"MUSK","x":1,"y":1},
{"p":"b2","m":"UNI2","x":0,"y":0},{"p":"b2","m":"UNI2","x":0.009,"y":0.051},{"p":"b2","m":"UNI2","x":0.021,"y":0.119},{"p":"b2","m":"UNI2","x":0.046,"y":0.146},{"p":"b2","m":"UNI2","x":0.065,"y":0.186},{"p":"b2","m":"UNI2","x":0.09,"y":0.227},{"p":"b2","m":"UNI2","x":0.108,"y":0.308},{"p":"b2","m":"UNI2","x":0.14,"y":0.389},{"p":"b2","m":"UNI2","x":0.171,"y":0.47},{"p":"b2","m":"UNI2","x":0.196,"y":0.497},{"p":"b2","m":"UNI2","x":0.221,"y":0.551},{"p":"b2","m":"UNI2","x":0.258,"y":0.585},{"p":"b2","m":"UNI2","x":0.283,"y":0.605},{"p":"b2","m":"UNI2","x":0.32,"y":0.619},{"p":"b2","m":"UNI2","x":0.345,"y":0.7},{"p":"b2","m":"UNI2","x":0.383,"y":0.741},{"p":"b2","m":"UNI2","x":0.42,"y":0.761},{"p":"b2","m":"UNI2","x":0.445,"y":0.795},{"p":"b2","m":"UNI2","x":0.495,"y":0.835},{"p":"b2","m":"UNI2","x":0.52,"y":0.869},{"p":"b2","m":"UNI2","x":0.57,"y":0.876},{"p":"b2","m":"UNI2","x":0.62,"y":0.903},{"p":"b2","m":"UNI2","x":0.67,"y":0.93},{"p":"b2","m":"UNI2","x":0.72,"y":0.957},{"p":"b2","m":"UNI2","x":0.794,"y":0.973},{"p":"b2","m":"UNI2","x":0.869,"y":0.984},{"p":"b2","m":"UNI2","x":0.944,"y":0.995},{"p":"b2","m":"UNI2","x":1,"y":1},
{"p":"b2","m":"VIRCHOW","x":0,"y":0},{"p":"b2","m":"VIRCHOW","x":0.002,"y":0.051},{"p":"b2","m":"VIRCHOW","x":0.021,"y":0.119},{"p":"b2","m":"VIRCHOW","x":0.046,"y":0.146},{"p":"b2","m":"VIRCHOW","x":0.065,"y":0.173},{"p":"b2","m":"VIRCHOW","x":0.096,"y":0.254},{"p":"b2","m":"VIRCHOW","x":0.121,"y":0.308},{"p":"b2","m":"VIRCHOW","x":0.146,"y":0.416},{"p":"b2","m":"VIRCHOW","x":0.171,"y":0.443},{"p":"b2","m":"VIRCHOW","x":0.196,"y":0.477},{"p":"b2","m":"VIRCHOW","x":0.221,"y":0.551},{"p":"b2","m":"VIRCHOW","x":0.258,"y":0.578},{"p":"b2","m":"VIRCHOW","x":0.296,"y":0.632},{"p":"b2","m":"VIRCHOW","x":0.333,"y":0.686},{"p":"b2","m":"VIRCHOW","x":0.37,"y":0.714},{"p":"b2","m":"VIRCHOW","x":0.408,"y":0.747},{"p":"b2","m":"VIRCHOW","x":0.445,"y":0.781},{"p":"b2","m":"VIRCHOW","x":0.483,"y":0.815},{"p":"b2","m":"VIRCHOW","x":0.532,"y":0.849},{"p":"b2","m":"VIRCHOW","x":0.582,"y":0.876},{"p":"b2","m":"VIRCHOW","x":0.632,"y":0.903},{"p":"b2","m":"VIRCHOW","x":0.682,"y":0.923},{"p":"b2","m":"VIRCHOW","x":0.744,"y":0.943},{"p":"b2","m":"VIRCHOW","x":0.794,"y":0.97},{"p":"b2","m":"VIRCHOW","x":0.844,"y":0.991},{"p":"b2","m":"VIRCHOW","x":0.919,"y":0.995},{"p":"b2","m":"VIRCHOW","x":1,"y":1},
{"p":"b3","m":"CONCH","x":0,"y":0},{"p":"b3","m":"CONCH","x":0.006,"y":0.105},{"p":"b3","m":"CONCH","x":0.025,"y":0.119},{"p":"b3","m":"CONCH","x":0.044,"y":0.146},{"p":"b3","m":"CONCH","x":0.056,"y":0.227},{"p":"b3","m":"CONCH","x":0.075,"y":0.241},{"p":"b3","m":"CONCH","x":0.094,"y":0.268},{"p":"b3","m":"CONCH","x":0.125,"y":0.268},{"p":"b3","m":"CONCH","x":0.15,"y":0.295},{"p":"b3","m":"CONCH","x":0.175,"y":0.335},{"p":"b3","m":"CONCH","x":0.2,"y":0.349},{"p":"b3","m":"CONCH","x":0.212,"y":0.416},{"p":"b3","m":"CONCH","x":0.237,"y":0.484},{"p":"b3","m":"CONCH","x":0.262,"y":0.497},{"p":"b3","m":"CONCH","x":0.287,"y":0.524},{"p":"b3","m":"CONCH","x":0.312,"y":0.551},{"p":"b3","m":"CONCH","x":0.337,"y":0.578},{"p":"b3","m":"CONCH","x":0.362,"y":0.605},{"p":"b3","m":"CONCH","x":0.387,"y":0.639},{"p":"b3","m":"CONCH","x":0.424,"y":0.659},{"p":"b3","m":"CONCH","x":0.449,"y":0.686},{"p":"b3","m":"CONCH","x":0.486,"y":0.727},{"p":"b3","m":"CONCH","x":0.524,"y":0.761},{"p":"b3","m":"CONCH","x":0.561,"y":0.774},{"p":"b3","m":"CONCH","x":0.599,"y":0.795},{"p":"b3","m":"CONCH","x":0.636,"y":0.801},{"p":"b3","m":"CONCH","x":0.673,"y":0.835},{"p":"b3","m":"CONCH","x":0.711,"y":0.862},{"p":"b3","m":"CONCH","x":0.736,"y":0.896},{"p":"b3","m":"CONCH","x":0.773,"y":0.93},{"p":"b3","m":"CONCH","x":0.81,"y":0.957},{"p":"b3","m":"CONCH","x":0.86,"y":0.984},{"p":"b3","m":"CONCH","x":0.91,"y":1},{"p":"b3","m":"CONCH","x":1,"y":1},
{"p":"b3","m":"MUSK","x":0,"y":0},{"p":"b3","m":"MUSK","x":0.012,"y":0.065},{"p":"b3","m":"MUSK","x":0.037,"y":0.105},{"p":"b3","m":"MUSK","x":0.062,"y":0.146},{"p":"b3","m":"MUSK","x":0.087,"y":0.186},{"p":"b3","m":"MUSK","x":0.112,"y":0.214},{"p":"b3","m":"MUSK","x":0.15,"y":0.261},{"p":"b3","m":"MUSK","x":0.187,"y":0.295},{"p":"b3","m":"MUSK","x":0.224,"y":0.335},{"p":"b3","m":"MUSK","x":0.249,"y":0.369},{"p":"b3","m":"MUSK","x":0.274,"y":0.443},{"p":"b3","m":"MUSK","x":0.299,"y":0.457},{"p":"b3","m":"MUSK","x":0.324,"y":0.484},{"p":"b3","m":"MUSK","x":0.349,"y":0.538},{"p":"b3","m":"MUSK","x":0.374,"y":0.565},{"p":"b3","m":"MUSK","x":0.411,"y":0.578},{"p":"b3","m":"MUSK","x":0.436,"y":0.632},{"p":"b3","m":"MUSK","x":0.474,"y":0.673},{"p":"b3","m":"MUSK","x":0.511,"y":0.7},{"p":"b3","m":"MUSK","x":0.561,"y":0.727},{"p":"b3","m":"MUSK","x":0.599,"y":0.754},{"p":"b3","m":"MUSK","x":0.636,"y":0.781},{"p":"b3","m":"MUSK","x":0.673,"y":0.808},{"p":"b3","m":"MUSK","x":0.711,"y":0.842},{"p":"b3","m":"MUSK","x":0.761,"y":0.882},{"p":"b3","m":"MUSK","x":0.81,"y":0.923},{"p":"b3","m":"MUSK","x":0.86,"y":0.943},{"p":"b3","m":"MUSK","x":0.91,"y":0.97},{"p":"b3","m":"MUSK","x":0.96,"y":0.991},{"p":"b3","m":"MUSK","x":1,"y":1},
{"p":"b3","m":"UNI2","x":0,"y":0},{"p":"b3","m":"UNI2","x":0.012,"y":0.078},{"p":"b3","m":"UNI2","x":0.031,"y":0.119},{"p":"b3","m":"UNI2","x":0.044,"y":0.2},{"p":"b3","m":"UNI2","x":0.062,"y":0.227},{"p":"b3","m":"UNI2","x":0.087,"y":0.281},{"p":"b3","m":"UNI2","x":0.112,"y":0.389},{"p":"b3","m":"UNI2","x":0.137,"y":0.43},{"p":"b3","m":"UNI2","x":0.162,"y":0.457},{"p":"b3","m":"UNI2","x":0.187,"y":0.491},{"p":"b3","m":"UNI2","x":0.212,"y":0.524},{"p":"b3","m":"UNI2","x":0.237,"y":0.538},{"p":"b3","m":"UNI2","x":0.262,"y":0.565},{"p":"b3","m":"UNI2","x":0.287,"y":0.599},{"p":"b3","m":"UNI2","x":0.324,"y":0.646},{"p":"b3","m":"UNI2","x":0.362,"y":0.686},{"p":"b3","m":"UNI2","x":0.399,"y":0.727},{"p":"b3","m":"UNI2","x":0.436,"y":0.754},{"p":"b3","m":"UNI2","x":0.486,"y":0.801},{"p":"b3","m":"UNI2","x":0.536,"y":0.828},{"p":"b3","m":"UNI2","x":0.586,"y":0.862},{"p":"b3","m":"UNI2","x":0.636,"y":0.889},{"p":"b3","m":"UNI2","x":0.686,"y":0.903},{"p":"b3","m":"UNI2","x":0.736,"y":0.923},{"p":"b3","m":"UNI2","x":0.786,"y":0.936},{"p":"b3","m":"UNI2","x":0.835,"y":0.95},{"p":"b3","m":"UNI2","x":0.885,"y":0.957},{"p":"b3","m":"UNI2","x":0.935,"y":0.97},{"p":"b3","m":"UNI2","x":0.973,"y":0.995},{"p":"b3","m":"UNI2","x":1,"y":1},
{"p":"b3","m":"VIRCHOW","x":0,"y":0},{"p":"b3","m":"VIRCHOW","x":0.006,"y":0.051},{"p":"b3","m":"VIRCHOW","x":0.025,"y":0.092},{"p":"b3","m":"VIRCHOW","x":0.05,"y":0.119},{"p":"b3","m":"VIRCHOW","x":0.075,"y":0.173},{"p":"b3","m":"VIRCHOW","x":0.1,"y":0.214},{"p":"b3","m":"VIRCHOW","x":0.125,"y":0.241},{"p":"b3","m":"VIRCHOW","x":0.15,"y":0.281},{"p":"b3","m":"VIRCHOW","x":0.168,"y":0.443},{"p":"b3","m":"VIRCHOW","x":0.187,"y":0.47},{"p":"b3","m":"VIRCHOW","x":0.212,"y":0.511},{"p":"b3","m":"VIRCHOW","x":0.237,"y":0.538},{"p":"b3","m":"VIRCHOW","x":0.274,"y":0.565},{"p":"b3","m":"VIRCHOW","x":0.312,"y":0.612},{"p":"b3","m":"VIRCHOW","x":0.349,"y":0.646},{"p":"b3","m":"VIRCHOW","x":0.387,"y":0.686},{"p":"b3","m":"VIRCHOW","x":0.424,"y":0.727},{"p":"b3","m":"VIRCHOW","x":0.461,"y":0.761},{"p":"b3","m":"VIRCHOW","x":0.499,"y":0.781},{"p":"b3","m":"VIRCHOW","x":0.536,"y":0.808},{"p":"b3","m":"VIRCHOW","x":0.574,"y":0.828},{"p":"b3","m":"VIRCHOW","x":0.623,"y":0.842},{"p":"b3","m":"VIRCHOW","x":0.673,"y":0.849},{"p":"b3","m":"VIRCHOW","x":0.723,"y":0.862},{"p":"b3","m":"VIRCHOW","x":0.773,"y":0.896},{"p":"b3","m":"VIRCHOW","x":0.823,"y":0.93},{"p":"b3","m":"VIRCHOW","x":0.873,"y":0.95},{"p":"b3","m":"VIRCHOW","x":0.923,"y":0.97},{"p":"b3","m":"VIRCHOW","x":0.973,"y":0.997},{"p":"b3","m":"VIRCHOW","x":1,"y":1},
{"p":"b4","m":"CONCH","x":0,"y":0},{"p":"b4","m":"CONCH","x":0.011,"y":0.051},{"p":"b4","m":"CONCH","x":0.03,"y":0.092},{"p":"b4","m":"CONCH","x":0.055,"y":0.132},{"p":"b4","m":"CONCH","x":0.08,"y":0.159},{"p":"b4","m":"CONCH","x":0.104,"y":0.2},{"p":"b4","m":"CONCH","x":0.129,"y":0.241},{"p":"b4","m":"CONCH","x":0.154,"y":0.281},{"p":"b4","m":"CONCH","x":0.179,"y":0.322},{"p":"b4","m":"CONCH","x":0.204,"y":0.376},{"p":"b4","m":"CONCH","x":0.229,"y":0.416},{"p":"b4","m":"CONCH","x":0.26,"y":0.43},{"p":"b4","m":"CONCH","x":0.279,"y":0.47},{"p":"b4","m":"CONCH","x":0.303,"y":0.511},{"p":"b4","m":"CONCH","x":0.341,"y":0.538},{"p":"b4","m":"CONCH","x":0.378,"y":0.578},{"p":"b4","m":"CONCH","x":0.403,"y":0.632},{"p":"b4","m":"CONCH","x":0.44,"y":0.673},{"p":"b4","m":"CONCH","x":0.478,"y":0.727},{"p":"b4","m":"CONCH","x":0.527,"y":0.741},{"p":"b4","m":"CONCH","x":0.577,"y":0.768},{"p":"b4","m":"CONCH","x":0.627,"y":0.795},{"p":"b4","m":"CONCH","x":0.677,"y":0.835},{"p":"b4","m":"CONCH","x":0.726,"y":0.882},{"p":"b4","m":"CONCH","x":0.776,"y":0.903},{"p":"b4","m":"CONCH","x":0.826,"y":0.93},{"p":"b4","m":"CONCH","x":0.876,"y":0.943},{"p":"b4","m":"CONCH","x":0.925,"y":0.95},{"p":"b4","m":"CONCH","x":0.975,"y":0.984},{"p":"b4","m":"CONCH","x":1,"y":1},
{"p":"b4","m":"MUSK","x":0,"y":0},{"p":"b4","m":"MUSK","x":0.011,"y":0.065},{"p":"b4","m":"MUSK","x":0.03,"y":0.119},{"p":"b4","m":"MUSK","x":0.055,"y":0.173},{"p":"b4","m":"MUSK","x":0.08,"y":0.173},{"p":"b4","m":"MUSK","x":0.104,"y":0.214},{"p":"b4","m":"MUSK","x":0.129,"y":0.254},{"p":"b4","m":"MUSK","x":0.154,"y":0.295},{"p":"b4","m":"MUSK","x":0.179,"y":0.349},{"p":"b4","m":"MUSK","x":0.204,"y":0.389},{"p":"b4","m":"MUSK","x":0.241,"y":0.443},{"p":"b4","m":"MUSK","x":0.266,"y":0.497},{"p":"b4","m":"MUSK","x":0.291,"y":0.551},{"p":"b4","m":"MUSK","x":0.316,"y":0.592},{"p":"b4","m":"MUSK","x":0.353,"y":0.619},{"p":"b4","m":"MUSK","x":0.403,"y":0.632},{"p":"b4","m":"MUSK","x":0.453,"y":0.659},{"p":"b4","m":"MUSK","x":0.502,"y":0.686},{"p":"b4","m":"MUSK","x":0.552,"y":0.741},{"p":"b4","m":"MUSK","x":0.602,"y":0.781},{"p":"b4","m":"MUSK","x":0.652,"y":0.815},{"p":"b4","m":"MUSK","x":0.701,"y":0.855},{"p":"b4","m":"MUSK","x":0.751,"y":0.882},{"p":"b4","m":"MUSK","x":0.801,"y":0.916},{"p":"b4","m":"MUSK","x":0.851,"y":0.943},{"p":"b4","m":"MUSK","x":0.9,"y":0.957},{"p":"b4","m":"MUSK","x":0.95,"y":0.977},{"p":"b4","m":"MUSK","x":1,"y":1},
{"p":"b4","m":"UNI2","x":0,"y":0},{"p":"b4","m":"UNI2","x":0.011,"y":0.038},{"p":"b4","m":"UNI2","x":0.03,"y":0.078},{"p":"b4","m":"UNI2","x":0.055,"y":0.105},{"p":"b4","m":"UNI2","x":0.073,"y":0.159},{"p":"b4","m":"UNI2","x":0.104,"y":0.186},{"p":"b4","m":"UNI2","x":0.129,"y":0.241},{"p":"b4","m":"UNI2","x":0.154,"y":0.335},{"p":"b4","m":"UNI2","x":0.179,"y":0.362},{"p":"b4","m":"UNI2","x":0.204,"y":0.403},{"p":"b4","m":"UNI2","x":0.229,"y":0.443},{"p":"b4","m":"UNI2","x":0.266,"y":0.47},{"p":"b4","m":"UNI2","x":0.291,"y":0.551},{"p":"b4","m":"UNI2","x":0.328,"y":0.578},{"p":"b4","m":"UNI2","x":0.353,"y":0.605},{"p":"b4","m":"UNI2","x":0.378,"y":0.646},{"p":"b4","m":"UNI2","x":0.428,"y":0.686},{"p":"b4","m":"UNI2","x":0.478,"y":0.714},{"p":"b4","m":"UNI2","x":0.527,"y":0.741},{"p":"b4","m":"UNI2","x":0.577,"y":0.781},{"p":"b4","m":"UNI2","x":0.627,"y":0.828},{"p":"b4","m":"UNI2","x":0.677,"y":0.855},{"p":"b4","m":"UNI2","x":0.726,"y":0.882},{"p":"b4","m":"UNI2","x":0.776,"y":0.889},{"p":"b4","m":"UNI2","x":0.826,"y":0.903},{"p":"b4","m":"UNI2","x":0.876,"y":0.943},{"p":"b4","m":"UNI2","x":0.925,"y":0.964},{"p":"b4","m":"UNI2","x":0.963,"y":0.984},{"p":"b4","m":"UNI2","x":1,"y":1},
{"p":"b4","m":"VIRCHOW","x":0,"y":0},{"p":"b4","m":"VIRCHOW","x":0.011,"y":0.051},{"p":"b4","m":"VIRCHOW","x":0.03,"y":0.092},{"p":"b4","m":"VIRCHOW","x":0.055,"y":0.146},{"p":"b4","m":"VIRCHOW","x":0.08,"y":0.173},{"p":"b4","m":"VIRCHOW","x":0.092,"y":0.227},{"p":"b4","m":"VIRCHOW","x":0.117,"y":0.254},{"p":"b4","m":"VIRCHOW","x":0.154,"y":0.295},{"p":"b4","m":"VIRCHOW","x":0.167,"y":0.362},{"p":"b4","m":"VIRCHOW","x":0.192,"y":0.389},{"p":"b4","m":"VIRCHOW","x":0.229,"y":0.43},{"p":"b4","m":"VIRCHOW","x":0.254,"y":0.47},{"p":"b4","m":"VIRCHOW","x":0.279,"y":0.484},{"p":"b4","m":"VIRCHOW","x":0.316,"y":0.524},{"p":"b4","m":"VIRCHOW","x":0.353,"y":0.551},{"p":"b4","m":"VIRCHOW","x":0.39,"y":0.578},{"p":"b4","m":"VIRCHOW","x":0.415,"y":0.619},{"p":"b4","m":"VIRCHOW","x":0.453,"y":0.632},{"p":"b4","m":"VIRCHOW","x":0.478,"y":0.659},{"p":"b4","m":"VIRCHOW","x":0.515,"y":0.673},{"p":"b4","m":"VIRCHOW","x":0.54,"y":0.714},{"p":"b4","m":"VIRCHOW","x":0.577,"y":0.754},{"p":"b4","m":"VIRCHOW","x":0.614,"y":0.768},{"p":"b4","m":"VIRCHOW","x":0.639,"y":0.808},{"p":"b4","m":"VIRCHOW","x":0.689,"y":0.835},{"p":"b4","m":"VIRCHOW","x":0.739,"y":0.862},{"p":"b4","m":"VIRCHOW","x":0.789,"y":0.896},{"p":"b4","m":"VIRCHOW","x":0.826,"y":0.943},{"p":"b4","m":"VIRCHOW","x":0.888,"y":0.95},{"p":"b4","m":"VIRCHOW","x":0.925,"y":0.957},{"p":"b4","m":"VIRCHOW","x":0.956,"y":0.97},{"p":"b4","m":"VIRCHOW","x":0.975,"y":0.991},{"p":"b4","m":"VIRCHOW","x":1,"y":1}
]},
"columns":4,
"spacing":{"row":31,"column":47.4},
"bounds":"flush",
"resolve":{"scale":{"color":"independent"},"legend":{"color":"independent"}},
"concat":[
{"width":268,"height":259,"title":"BC-Subtype","layer":[
 {"data":{"name":"roc"},"transform":[{"filter":"datum.p=='a1'"}],"mark":{"type":"line","strokeWidth":3,"opacity":0.9},
  "encoding":{"x":{"field":"x","type":"quantitative","scale":{"domain":[0,1],"nice":false},"axis":{"values":[0,0.2,0.4,0.6,0.8,1],"format":".1f","title":null}},
   "y":{"field":"y","type":"quantitative","scale":{"domain":[0,1.05],"nice":false},"axis":{"values":[0,0.2,0.4,0.6,0.8,1],"format":".1f","title":["GeneMLP","TPR"]}},
   "color":{"field":"m","type":"nominal","scale":{"domain":["Raw","PCA","scVI","UCE"],"range":["#4C72B0","#DD8452","#55A868","#C44E52"]},"legend":{"title":null,"labelExpr":"datum.label=='Raw'?'GeneMLP(Raw) (AUC=0.567)':datum.label=='PCA'?'GeneMLP(PCA) (AUC=0.895)':datum.label=='scVI'?'GeneMLP(scVI) (AUC=0.865)':'GeneMLP(UCE) (AUC=0.756)'"}}}},
 {"data":{"name":"diag"},"mark":{"type":"line","color":"#999999","strokeWidth":1.2,"strokeDash":[5,3]},"encoding":{"x":{"field":"x","type":"quantitative"},"y":{"field":"y","type":"quantitative"}}}]},
{"width":268,"height":259,"title":"BC-LOH","layer":[
 {"data":{"name":"roc"},"transform":[{"filter":"datum.p=='a2'"}],"mark":{"type":"line","strokeWidth":3,"opacity":0.9},
  "encoding":{"x":{"field":"x","type":"quantitative","scale":{"domain":[0,1],"nice":false},"axis":{"values":[0,0.2,0.4,0.6,0.8,1],"format":".1f","title":null}},
   "y":{"field":"y","type":"quantitative","scale":{"domain":[0,1.05],"nice":false},"axis":{"values":[0,0.2,0.4,0.6,0.8,1],"format":".1f","title":null}},
   "color":{"field":"m","type":"nominal","scale":{"domain":["Raw","PCA","scVI","UCE"],"range":["#4C72B0","#DD8452","#55A868","#C44E52"]},"legend":{"title":null,"labelExpr":"datum.label=='Raw'?'GeneMLP(Raw) (AUC=0.497)':datum.label=='PCA'?'GeneMLP(PCA) (AUC=0.779)':datum.label=='scVI'?'GeneMLP(scVI) (AUC=0.729)':'GeneMLP(UCE) (AUC=0.642)'"}}}},
 {"data":{"name":"diag"},"mark":{"type":"line","color":"#999999","strokeWidth":1.2,"strokeDash":[5,3]},"encoding":{"x":{"field":"x","type":"quantitative"},"y":{"field":"y","type":"quantitative"}}}]},
{"width":268,"height":259,"title":"NSCLC-TMB","layer":[
 {"data":{"name":"roc"},"transform":[{"filter":"datum.p=='a3'"}],"mark":{"type":"line","strokeWidth":3,"opacity":0.9},
  "encoding":{"x":{"field":"x","type":"quantitative","scale":{"domain":[0,1],"nice":false},"axis":{"values":[0,0.2,0.4,0.6,0.8,1],"format":".1f","title":null}},
   "y":{"field":"y","type":"quantitative","scale":{"domain":[0,1.05],"nice":false},"axis":{"values":[0,0.2,0.4,0.6,0.8,1],"format":".1f","title":null}},
   "color":{"field":"m","type":"nominal","scale":{"domain":["Raw","PCA","scVI","UCE"],"range":["#4C72B0","#DD8452","#55A868","#C44E52"]},"legend":{"title":null,"labelExpr":"datum.label=='Raw'?'GeneMLP(Raw) (AUC=0.514)':datum.label=='PCA'?'GeneMLP(PCA) (AUC=0.728)':datum.label=='scVI'?'GeneMLP(scVI) (AUC=0.654)':'GeneMLP(UCE) (AUC=0.636)'"}}}},
 {"data":{"name":"diag"},"mark":{"type":"line","color":"#999999","strokeWidth":1.2,"strokeDash":[5,3]},"encoding":{"x":{"field":"x","type":"quantitative"},"y":{"field":"y","type":"quantitative"}}}]},
{"width":268,"height":259,"title":"NSCLC-Biopsy","layer":[
 {"data":{"name":"roc"},"transform":[{"filter":"datum.p=='a4'"}],"mark":{"type":"line","strokeWidth":3,"opacity":0.9},
  "encoding":{"x":{"field":"x","type":"quantitative","scale":{"domain":[0,1],"nice":false},"axis":{"values":[0,0.2,0.4,0.6,0.8,1],"format":".1f","title":null}},
   "y":{"field":"y","type":"quantitative","scale":{"domain":[0,1.05],"nice":false},"axis":{"values":[0,0.2,0.4,0.6,0.8,1],"format":".1f","title":null}},
   "color":{"field":"m","type":"nominal","scale":{"domain":["Raw","PCA","scVI","UCE"],"range":["#4C72B0","#DD8452","#55A868","#C44E52"]},"legend":{"title":null,"labelExpr":"datum.label=='Raw'?'GeneMLP(Raw) (AUC=0.465)':datum.label=='PCA'?'GeneMLP(PCA) (AUC=0.559)':datum.label=='scVI'?'GeneMLP(scVI) (AUC=0.520)':'GeneMLP(UCE) (AUC=0.505)'"}}}},
 {"data":{"name":"diag"},"mark":{"type":"line","color":"#999999","strokeWidth":1.2,"strokeDash":[5,3]},"encoding":{"x":{"field":"x","type":"quantitative"},"y":{"field":"y","type":"quantitative"}}}]},
{"width":268,"height":259,"layer":[
 {"data":{"name":"roc"},"transform":[{"filter":"datum.p=='b1'"}],"mark":{"type":"line","strokeWidth":3,"opacity":0.9},
  "encoding":{"x":{"field":"x","type":"quantitative","scale":{"domain":[0,1],"nice":false},"axis":{"values":[0,0.2,0.4,0.6,0.8,1],"format":".1f","title":"FPR"}},
   "y":{"field":"y","type":"quantitative","scale":{"domain":[0,1.05],"nice":false},"axis":{"values":[0,0.2,0.4,0.6,0.8,1],"format":".1f","title":["HEMIL","TPR"]}},
   "color":{"field":"m","type":"nominal","scale":{"domain":["CONCH","MUSK","UNI2","VIRCHOW"],"range":["#1f77b4","#ff7f0e","#2ca02c","#d62728"]},"legend":{"title":null,"labelExpr":"datum.label=='CONCH'?'HEMIL(CONCH) (AUC=0.801)':datum.label=='MUSK'?'HEMIL(MUSK) (AUC=0.799)':datum.label=='UNI2'?'HEMIL(UNI2) (AUC=0.816)':'HEMIL(VIRCHOW) (AUC=0.797)'"}}}},
 {"data":{"name":"diag"},"mark":{"type":"line","color":"#999999","strokeWidth":1.2,"strokeDash":[5,3]},"encoding":{"x":{"field":"x","type":"quantitative"},"y":{"field":"y","type":"quantitative"}}}]},
{"width":268,"height":259,"layer":[
 {"data":{"name":"roc"},"transform":[{"filter":"datum.p=='b2'"}],"mark":{"type":"line","strokeWidth":3,"opacity":0.9},
  "encoding":{"x":{"field":"x","type":"quantitative","scale":{"domain":[0,1],"nice":false},"axis":{"values":[0,0.2,0.4,0.6,0.8,1],"format":".1f","title":"FPR"}},
   "y":{"field":"y","type":"quantitative","scale":{"domain":[0,1.05],"nice":false},"axis":{"values":[0,0.2,0.4,0.6,0.8,1],"format":".1f","title":null}},
   "color":{"field":"m","type":"nominal","scale":{"domain":["CONCH","MUSK","UNI2","VIRCHOW"],"range":["#1f77b4","#ff7f0e","#2ca02c","#d62728"]},"legend":{"title":null,"labelExpr":"datum.label=='CONCH'?'HEMIL(CONCH) (AUC=0.741)':datum.label=='MUSK'?'HEMIL(MUSK) (AUC=0.742)':datum.label=='UNI2'?'HEMIL(UNI2) (AUC=0.733)':'HEMIL(VIRCHOW) (AUC=0.724)'"}}}},
 {"data":{"name":"diag"},"mark":{"type":"line","color":"#999999","strokeWidth":1.2,"strokeDash":[5,3]},"encoding":{"x":{"field":"x","type":"quantitative"},"y":{"field":"y","type":"quantitative"}}}]},
{"width":268,"height":259,"layer":[
 {"data":{"name":"roc"},"transform":[{"filter":"datum.p=='b3'"}],"mark":{"type":"line","strokeWidth":3,"opacity":0.9},
  "encoding":{"x":{"field":"x","type":"quantitative","scale":{"domain":[0,1],"nice":false},"axis":{"values":[0,0.2,0.4,0.6,0.8,1],"format":".1f","title":"FPR"}},
   "y":{"field":"y","type":"quantitative","scale":{"domain":[0,1.05],"nice":false},"axis":{"values":[0,0.2,0.4,0.6,0.8,1],"format":".1f","title":null}},
   "color":{"field":"m","type":"nominal","scale":{"domain":["CONCH","MUSK","UNI2","VIRCHOW"],"range":["#1f77b4","#ff7f0e","#2ca02c","#d62728"]},"legend":{"title":null,"labelExpr":"datum.label=='CONCH'?'HEMIL(CONCH) (AUC=0.669)':datum.label=='MUSK'?'HEMIL(MUSK) (AUC=0.621)':datum.label=='UNI2'?'HEMIL(UNI2) (AUC=0.708)':'HEMIL(VIRCHOW) (AUC=0.677)'"}}}},
 {"data":{"name":"diag"},"mark":{"type":"line","color":"#999999","strokeWidth":1.2,"strokeDash":[5,3]},"encoding":{"x":{"field":"x","type":"quantitative"},"y":{"field":"y","type":"quantitative"}}}]},
{"width":268,"height":259,"layer":[
 {"data":{"name":"roc"},"transform":[{"filter":"datum.p=='b4'"}],"mark":{"type":"line","strokeWidth":3,"opacity":0.9},
  "encoding":{"x":{"field":"x","type":"quantitative","scale":{"domain":[0,1],"nice":false},"axis":{"values":[0,0.2,0.4,0.6,0.8,1],"format":".1f","title":"FPR"}},
   "y":{"field":"y","type":"quantitative","scale":{"domain":[0,1.05],"nice":false},"axis":{"values":[0,0.2,0.4,0.6,0.8,1],"format":".1f","title":null}},
   "color":{"field":"m","type":"nominal","scale":{"domain":["CONCH","MUSK","UNI2","VIRCHOW"],"range":["#1f77b4","#ff7f0e","#2ca02c","#d62728"]},"legend":{"title":null,"labelExpr":"datum.label=='CONCH'?'HEMIL(CONCH) (AUC=0.638)':datum.label=='MUSK'?'HEMIL(MUSK) (AUC=0.647)':datum.label=='UNI2'?'HEMIL(UNI2) (AUC=0.648)':'HEMIL(VIRCHOW) (AUC=0.632)'"}}}},
 {"data":{"name":"diag"},"mark":{"type":"line","color":"#999999","strokeWidth":1.2,"strokeDash":[5,3]},"encoding":{"x":{"field":"x","type":"quantitative"},"y":{"field":"y","type":"quantitative"}}}]}
],
"config":{
 "font":"DejaVu Sans",
 "view":{"stroke":null},
 "axis":{"grid":false,"domainColor":"#000000","tickColor":"#000000","labelColor":"#000000","titleColor":"#000000","labelFontSize":12.5,"titleFontSize":16,"titleFontWeight":"normal","tickSize":4,"domainWidth":1,"tickWidth":1,"labelPadding":4,"titlePadding":4,"labelFlush":false},
 "axisY":{"titleFontSize":18,"titlePadding":8,"titleLineHeight":20},
 "legend":{"orient":"bottom-right","offset":8,"padding":0,"labelFontSize":10,"labelColor":"#000000","labelLimit":300,"symbolType":"M-2.5,0H2.5","symbolSize":64,"symbolStrokeWidth":3.5,"rowPadding":0,"labelOffset":7},
 "title":{"fontSize":16,"fontWeight":"normal","offset":4,"color":"#000000"}
}
}
